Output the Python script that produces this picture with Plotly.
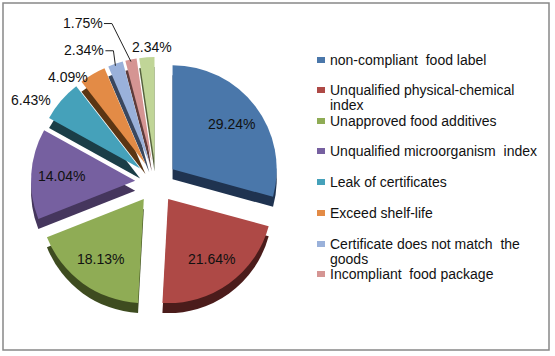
import math
import plotly.graph_objects as go

labels = [
    "non-compliant food label",
    "Unqualified physical-chemical index",
    "Unapproved food additives",
    "Unqualified microorganism  index",
    "Leak of certificates",
    "Exceed shelf-life",
    "Certificate does not match the goods",
    "Incompliant food package",
    "Others",
]
values = [29.24, 21.64, 18.13, 14.04, 6.43, 4.09, 2.34, 1.75, 2.34]
legend_lines = [
    ["non-compliant  food label"],
    ["Unqualified physical-chemical", "index"],
    ["Unapproved food additives"],
    ["Unqualified microorganism  index"],
    ["Leak of certificates"],
    ["Exceed shelf-life"],
    ["Certificate does not match  the", "goods"],
    ["Incompliant  food package"],
]

# ---- styling / layout (not data) ----
colors = ["#4A77AA", "#AE4946", "#8FAC55", "#7660A0", "#45A1BA", "#E38B46",
          "#9AB1DA", "#D59593", "#C0D597"]
dark = ["#1F3350", "#4B1C1B", "#3E4C20", "#45365D", "#1B3E47", "#5B3513",
        "#3A475E", "#5E3C3B", "#55613C"]
inside = [True, True, True, True, False, False, False, False, False]
# pixel offsets of outside labels from the slice edge, and whether a leader line is drawn
label_offsets = {4: (-30, -1, False), 5: (-25, 3, False), 6: (-31, -14, True),
                 7: (-48, -37, True), 8: (5, -10, False)}
FONT = "Liberation Sans, Arial, sans-serif"
TXT = dict(family=FONT, size=14, color="#111")

W, H = 555, 356
cx, cy, half = 156, 182, 125
shift = 10
pull_frac = 0.2
pull = [pull_frac] * len(values)
inner_frac = 0.76


def dom(dy=0):
    return dict(x=[(cx - half) / W, (cx + half) / W],
                y=[1 - (cy + half + dy) / H, 1 - (cy - half + dy) / H])


def px(x, y):
    return x / W, 1 - y / H


fig = go.Figure()
fig.add_trace(go.Pie(
    values=values, labels=labels, sort=False, direction="clockwise", rotation=0,
    marker=dict(colors=dark, line=dict(width=0)), pull=pull,
    textinfo="none", hoverinfo="skip", showlegend=False, domain=dom(shift),
))
fig.add_trace(go.Pie(
    values=values, labels=labels, sort=False, direction="clockwise", rotation=0,
    marker=dict(colors=colors, line=dict(width=0)), pull=pull,
    textinfo="none", showlegend=False, domain=dom(0), automargin=False,
))

annotations = []
shapes = []
total = sum(values)
cum = 0.0
for i, v in enumerate(values):
    mid = (cum + v / 2) / total * 2 * math.pi
    cum += v
    sx, sy = math.sin(mid), -math.cos(mid)
    txt = f"{v:.2f}%"
    if inside[i]:
        x, y = px(cx + inner_frac * half * sx, cy + inner_frac * half * sy)
        annotations.append(dict(x=x, y=y, xref="paper", yref="paper", text=txt,
                                showarrow=False, xanchor="center", yanchor="middle", font=TXT))
        continue
    ex, ey = cx + half * sx, cy + half * sy
    dx, dy, line = label_offsets[i]
    tx, ty = ex + dx, ey + dy
    x, y = px(tx, ty)
    annotations.append(dict(x=x, y=y, xref="paper", yref="paper", text=txt,
                            showarrow=False, xanchor="center", yanchor="middle", font=TXT))
    if line:
        p0 = px(tx + 21, ty + 1)
        p1 = px(tx + 29, ty + 1)
        p2 = px(ex, ey + 2)
        shapes.append(dict(type="path", xref="paper", yref="paper",
                           path=f"M {p0[0]} {p0[1]} L {p1[0]} {p1[1]} L {p2[0]} {p2[1]}",
                           line=dict(color="#222", width=1)))

shapes.append(dict(type="rect", xref="paper", yref="paper",
                   x0=3 / W, x1=549 / W, y0=1 - 350 / H, y1=1 - 3 / H,
                   line=dict(color="#888888", width=1.5), fillcolor="rgba(0,0,0,0)"))
row_y = [60, 90, 121, 151, 182, 213, 244, 274]
for i, lines in enumerate(legend_lines):
    y = row_y[i]
    shapes.append(dict(type="rect", xref="paper", yref="paper",
                       x0=317 / W, x1=325 / W, y0=1 - (y + 3) / H, y1=1 - (y - 3) / H,
                       fillcolor=colors[i], line=dict(width=0)))
    for k, t in enumerate(lines):
        annotations.append(dict(x=328 / W, y=1 - (y + 15 * k) / H, xref="paper", yref="paper",
                                text=t, showarrow=False, xanchor="left", yanchor="middle",
                                font=TXT))

fig.update_layout(
    width=W, height=H, margin=dict(l=0, r=0, t=0, b=0, autoexpand=False),
    paper_bgcolor="white", plot_bgcolor="white",
    shapes=shapes, annotations=annotations,
)
fig.write_html("out.html", config={"displayModeBar": False},
               post_script="document.body.style.margin='0';document.body.style.overflow='hidden';")
